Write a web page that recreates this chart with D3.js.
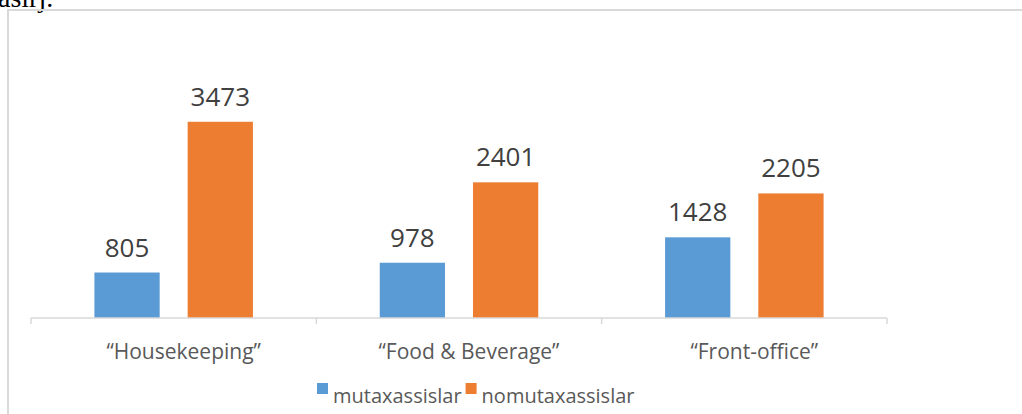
<!DOCTYPE html>
<html>
<head>
<meta charset="utf-8">
<script src="https://cdn.jsdelivr.net/npm/d3@7"></script>
<style>
  body { margin: 0; background: #fff; }
  svg { display: block; }
</style>
</head>
<body>
<svg id="chart"></svg>
<script>
// data
const categories = ["“Housekeeping”", "“Food & Beverage”", "“Front-office”"];
const seriesNames = ["mutaxassislar", "nomutaxassislar"];
const mutaxassislar = [805, 978, 1428];
const nomutaxassislar = [3473, 2401, 2205];
const seriesColors = ["#5b9bd5", "#ed7d31"];

function createChart() {
    const width = 1022;
    const height = 414;

    const svg = d3.select("#chart")
        .attr("width", width)
        .attr("height", height);

    // bit of the page text above the chart, cut off
    svg.append("text")
        .attr("x", -2)
        .attr("y", 7)
        .style("font-family", "Liberation Serif, serif")
        .style("font-size", "28px")
        .attr("fill", "#000")
        .text("asirj.");

    // chart border (runs off the right and bottom edges)
    svg.append("rect")
        .attr("x", 8)
        .attr("y", 10)
        .attr("width", 1100)
        .attr("height", 500)
        .attr("fill", "none")
        .attr("stroke", "#d9d9d9")
        .attr("stroke-width", 2);

    const rows = categories.map((c, i) => ({
        category: c,
        values: [mutaxassislar[i], nomutaxassislar[i]]
    }));

    const x0 = d3.scaleBand()
        .domain(categories)
        .range([31, 887])
        .padding(0);

    const x1 = d3.scaleBand()
        .domain(seriesNames)
        .range([0, x0.bandwidth()])
        .paddingInner(0.3)
        .paddingOuter(0.68);

    const y = d3.scaleLinear()
        .domain([0, 4000])
        .range([318, 92]);

    // bars
    const groups = svg.append("g")
        .selectAll("g")
        .data(rows)
        .join("g")
        .attr("transform", d => `translate(${x0(d.category)},0)`);

    groups.selectAll("rect")
        .data(d => d.values.map((v, j) => ({ name: seriesNames[j], value: v, j })))
        .join("rect")
        .attr("x", d => x1(d.name))
        .attr("y", d => y(d.value))
        .attr("width", x1.bandwidth())
        .attr("height", d => y(0) - y(d.value))
        .attr("fill", d => seriesColors[d.j]);

    // value labels
    groups.selectAll("text")
        .data(d => d.values.map((v, j) => ({ name: seriesNames[j], value: v })))
        .join("text")
        .attr("x", d => x1(d.name) + x1.bandwidth() / 2)
        .attr("y", d => y(d.value) - 16)
        .attr("text-anchor", "middle")
        .style("font-family", "Open Sans, sans-serif")
        .style("font-size", "26px")
        .attr("fill", "#404040")
        .text(d => d.value);

    // category axis
    const axis = svg.append("g")
        .attr("transform", `translate(0,${y(0)})`);

    axis.append("line")
        .attr("x1", 31)
        .attr("x2", 887)
        .attr("stroke", "#d9d9d9")
        .attr("stroke-width", 1.5);

    const tickPos = categories.map(c => x0(c)).concat([x0.range()[1]]);
    axis.selectAll(".tick")
        .data(tickPos)
        .join("line")
        .attr("class", "tick")
        .attr("x1", d => d)
        .attr("x2", d => d)
        .attr("y1", 0)
        .attr("y2", 6)
        .attr("stroke", "#d9d9d9")
        .attr("stroke-width", 1.5);

    axis.selectAll(".cat")
        .data(categories)
        .join("text")
        .attr("class", "cat")
        .attr("x", d => x0(d) + x0.bandwidth() / 2 + 10)
        .attr("y", 41)
        .attr("text-anchor", "middle")
        .style("font-family", "Open Sans, sans-serif")
        .style("font-size", "21px")
        .attr("fill", "#595959")
        .text(d => d);

    // legend
    const legend = svg.append("g")
        .attr("transform", "translate(317,0)");

    let lx = 0;
    seriesNames.forEach((name, i) => {
        legend.append("rect")
            .attr("x", lx)
            .attr("y", 383)
            .attr("width", 11)
            .attr("height", 11)
            .attr("fill", seriesColors[i]);
        const t = legend.append("text")
            .attr("x", lx + 16)
            .attr("y", 403)
            .style("font-family", "Open Sans, sans-serif")
            .style("font-size", "20px")
            .attr("fill", "#595959")
            .text(name);
        lx += 16 + t.node().getComputedTextLength() + 4;
    });
}

createChart();
</script>
</body>
</html>
